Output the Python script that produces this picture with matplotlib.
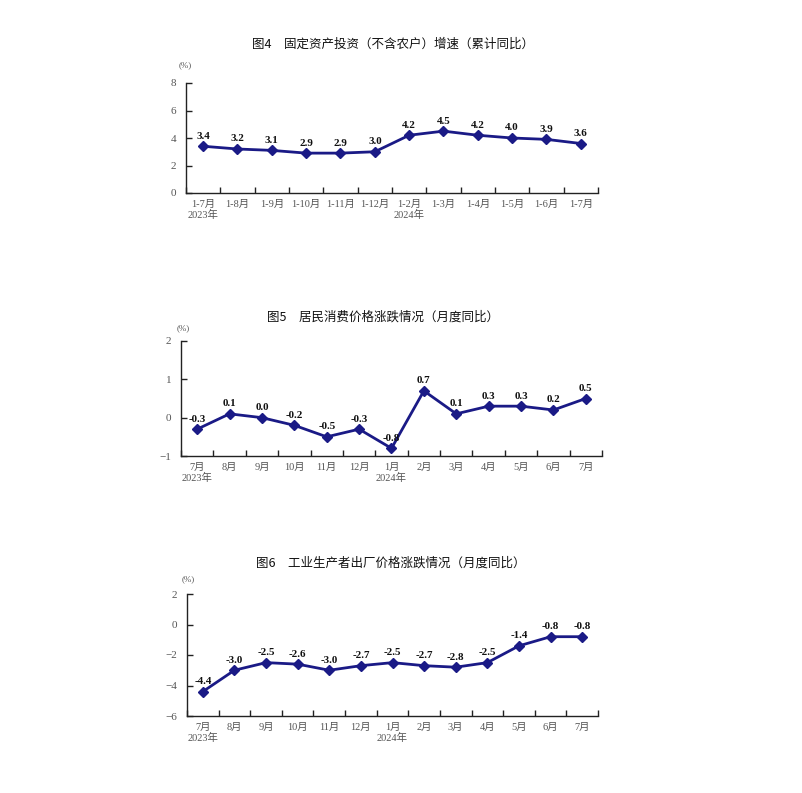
import matplotlib
matplotlib.use("Agg")
import matplotlib.pyplot as plt
from matplotlib.ticker import FixedLocator

plt.rcParams['font.family'] = ['Liberation Serif', 'Noto Sans CJK SC', 'DejaVu Sans']
plt.rcParams['axes.unicode_minus'] = True

# ---- data ----
title1 = "图4　固定资产投资（不含农户）增速（累计同比）"
cats1 = ["1-7月", "1-8月", "1-9月", "1-10月", "1-11月", "1-12月",
         "1-2月", "1-3月", "1-4月", "1-5月", "1-6月", "1-7月"]
vals1 = [3.4, 3.2, 3.1, 2.9, 2.9, 3.0, 4.2, 4.5, 4.2, 4.0, 3.9, 3.6]
yticks1 = [0, 2, 4, 6, 8]
years1 = {0: "2023年", 6: "2024年"}

title2 = "图5　居民消费价格涨跌情况（月度同比）"
cats2 = ["7月", "8月", "9月", "10月", "11月", "12月", "1月",
         "2月", "3月", "4月", "5月", "6月", "7月"]
vals2 = [-0.3, 0.1, 0.0, -0.2, -0.5, -0.3, -0.8, 0.7, 0.1, 0.3, 0.3, 0.2, 0.5]
yticks2 = [-1, 0, 1, 2]
years2 = {0: "2023年", 6: "2024年"}

title3 = "图6　工业生产者出厂价格涨跌情况（月度同比）"
cats3 = cats2
vals3 = [-4.4, -3.0, -2.5, -2.6, -3.0, -2.7, -2.5, -2.7, -2.8, -2.5, -1.4, -0.8, -0.8]
yticks3 = [-6, -4, -2, 0, 2]
years3 = {0: "2023年", 6: "2024年"}

W, H = 803, 793
fig = plt.figure(figsize=(W / 100, H / 100), dpi=100)
fig.patch.set_facecolor('white')

LINE = '#1a1a86'
GRAY = '#555555'
CJK = ['Noto Sans CJK SC', 'DejaVu Sans']
SERIF = ['Liberation Serif', 'Noto Sans CJK SC']
FS = 7.5


def px_rect(l, r, top, bot):
    return [l / W, 1 - bot / H, (r - l) / W, (bot - top) / H]


def draw(rect, title, title_xy, pct_xy, cats, vals, yticks, years):
    ax = fig.add_axes(px_rect(*rect))
    n = len(cats)
    x = list(range(n))
    ax.plot(x, vals, color=LINE, lw=2.0, marker='D', ms=4.8, mfc=LINE, mec=LINE, zorder=3)
    ax.set_xlim(-0.5, n - 0.5)
    ax.set_ylim(yticks[0], yticks[-1])
    ax.set_yticks(yticks)
    ax.set_yticklabels([("\u2212" + str(abs(t))) if t < 0 else str(t) for t in yticks],
                       family=SERIF, fontsize=FS + 0.5, color=GRAY)
    ax.xaxis.set_major_locator(FixedLocator([i + 0.5 for i in range(-1, n)]))
    ax.set_xticklabels([])
    ax.xaxis.set_minor_locator(FixedLocator(x))
    ax.set_xticklabels(cats, minor=True, family=SERIF, fontsize=FS, color=GRAY)
    ax.tick_params(axis='x', which='major', direction='in', length=4, width=1, color='#222222')
    ax.tick_params(axis='x', which='minor', length=0, pad=5)
    ax.tick_params(axis='y', direction='in', length=4, width=1, color='#222222', pad=7)
    for s in ['top', 'right']:
        ax.spines[s].set_visible(False)
    for s in ['left', 'bottom']:
        ax.spines[s].set_color('#222222')
        ax.spines[s].set_linewidth(1.0)
    for xi, v in zip(x, vals):
        ax.annotate(f"{v:.1f}", (xi, v), xytext=(0, 4), textcoords='offset points',
                    ha='center', va='bottom', fontsize=FS + 0.4, fontweight='bold',
                    family=SERIF, color='#111111')
    for i, y in years.items():
        ax.annotate(y, (i, yticks[0]), xytext=(0, -15.5), textcoords='offset points',
                    ha='center', va='center', fontsize=FS, family=SERIF, color=GRAY,
                    annotation_clip=False)
    fig.text(title_xy[0] / W, 1 - title_xy[1] / H, title, ha='center', va='center',
             fontsize=9, family=CJK, fontweight='medium', color='#111111')
    fig.text(pct_xy[0] / W, 1 - pct_xy[1] / H, "(%)", ha='center', va='center',
             fontsize=6.5, family=SERIF, color=GRAY)
    return ax


draw((186, 598, 83, 193), title1, (393, 44), (185, 65), cats1, vals1, yticks1, years1)
draw((181, 602, 341, 456), title2, (383, 317), (183, 328), cats2, vals2, yticks2, years2)
draw((187, 598, 594, 716), title3, (391, 563), (188, 579), cats3, vals3, yticks3, years3)

fig.savefig("out.png", dpi=100, facecolor='white')
